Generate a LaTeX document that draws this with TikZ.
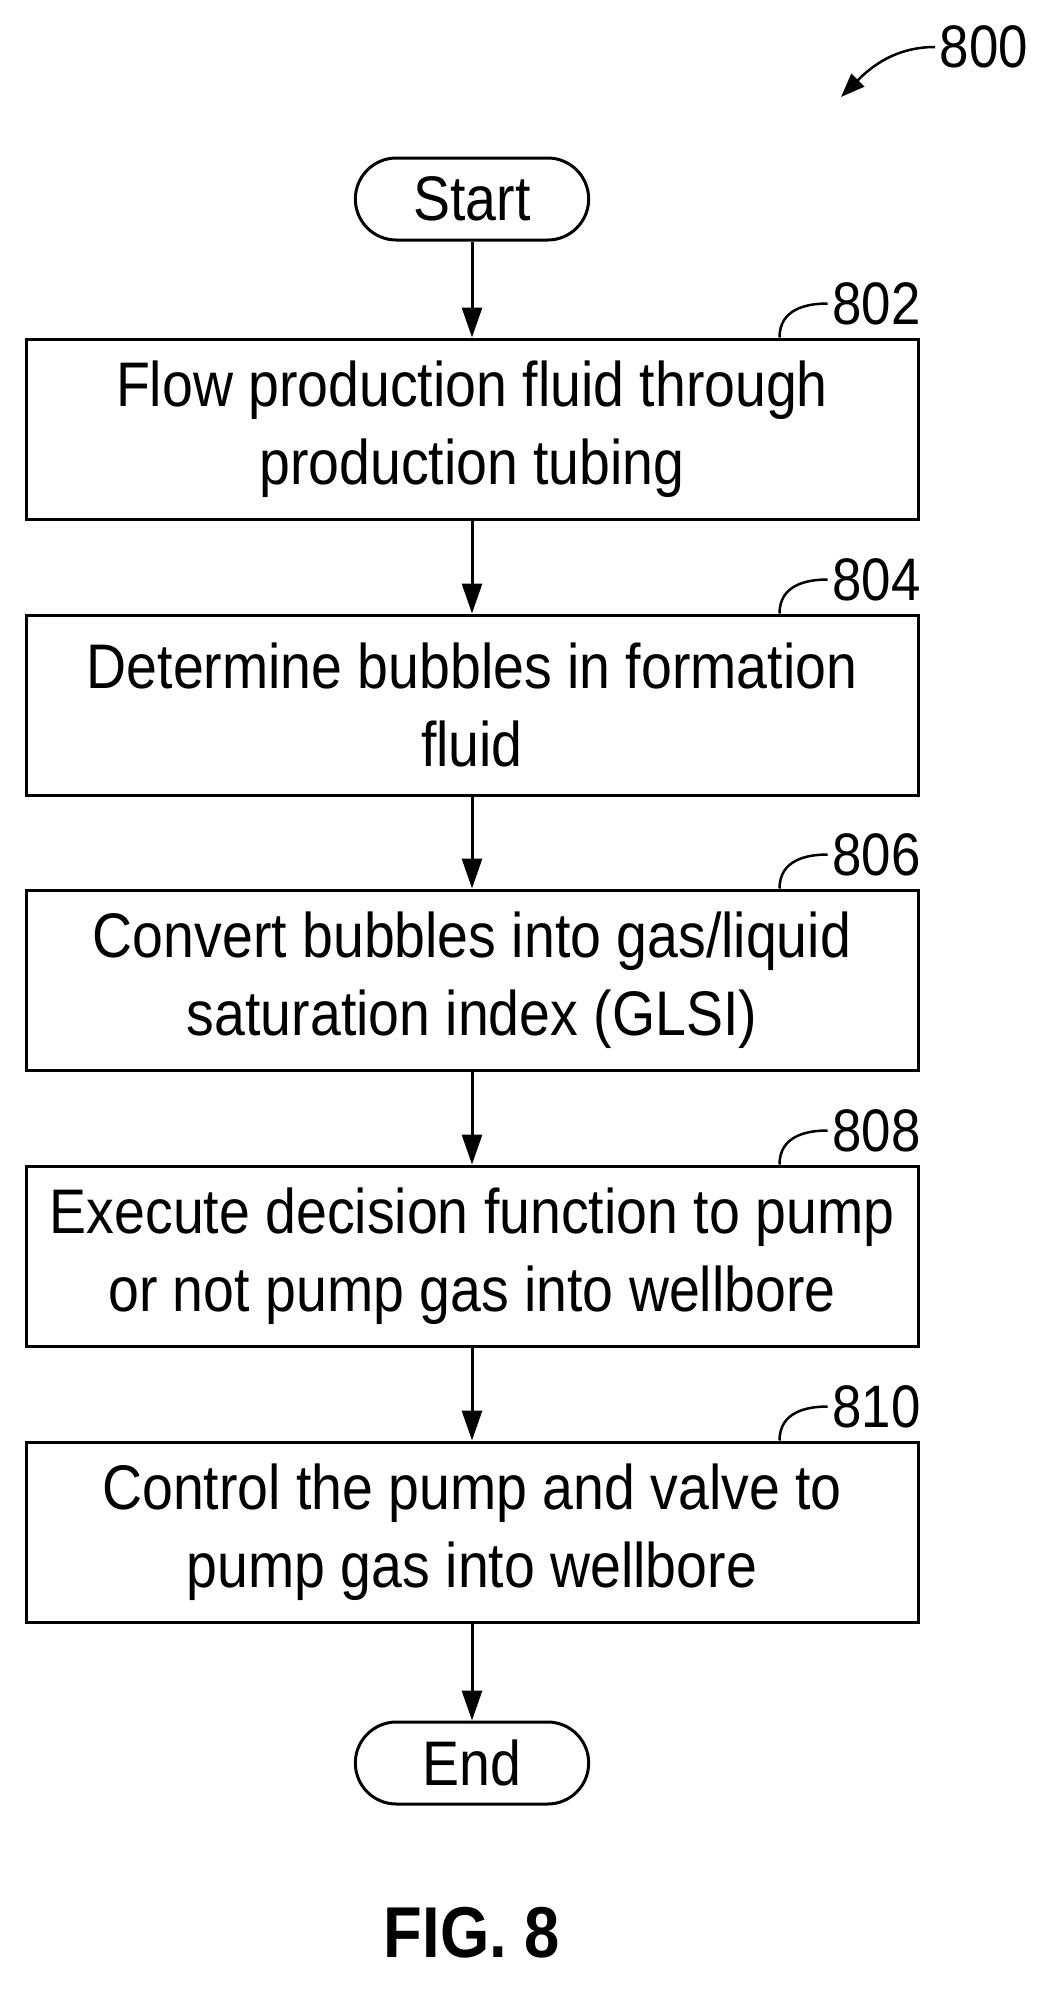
\documentclass[tikz,border=0pt]{standalone}
\usepackage{fontspec}
\setmainfont{Liberation Sans}[FakeStretch=0.88]
\usetikzlibrary{arrows.meta,shapes.misc}
\begin{document}
\begin{tikzpicture}[x=1pt,y=-1pt,line width=3pt,
  proc/.style={draw,minimum width=892pt,minimum height=180pt,align=center,font=\fontsize{63}{78}\selectfont},
  term/.style={draw,rounded rectangle,minimum width=240pt,minimum height=82pt,font=\fontsize{63}{70}\selectfont},
  flow/.style={-{Triangle[length=30pt,width=20pt]}},
  num/.style={font=\fontsize{60}{70}\selectfont}]
\useasboundingbox (0,0) rectangle (1050,1989);
\node[term] (s) at (472,199) {Start};
\node[proc] (b1) at (472,429) {Flow production fluid through\\production tubing};
\node[proc] (b2) at (472,705) {Determine bubbles in formation\\fluid};
\node[proc] (b3) at (472,980) {Convert bubbles into gas/liquid\\saturation index (GLSI)};
\node[proc] (b4) at (472,1256) {Execute decision function to pump\\or not pump gas into wellbore};
\node[proc] (b5) at (472,1532) {Control the pump and valve to\\pump gas into wellbore};
\node[term] (e) at (472,1763) {End};
\foreach \a/\b in {s/b1,b1/b2,b2/b3,b3/b4,b4/b5,b5/e}
  \draw[flow] (\a.south) -- (\b.north);
\foreach \b/\n in {b1/802,b2/804,b3/806,b4/808,b5/810}{
  \node[num,anchor=west] (l\n) at ([xshift=-92pt,yshift=34pt]\b.north east) {\n};
  \draw[line width=2.5pt] ([xshift=-140pt]\b.north east) .. controls +(0,-28) and +(-22,0) .. (l\n.west);
}
\node[num,anchor=west] (l800) at (935,47) {800};
\coordinate (a800) at (841,97);
\draw[line width=2.5pt,-{Triangle[length=24pt,width=18pt]}] (l800.west) .. controls +(-40,0) and +(30,-30) .. (a800);
\node[font=\fontsize{72}{80}\selectfont\bfseries] (fig) at (472,1933) {FIG. 8};
\end{tikzpicture}
\end{document}
